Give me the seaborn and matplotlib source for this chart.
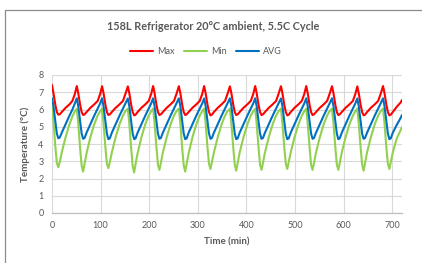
import matplotlib
matplotlib.use("Agg")
import matplotlib.pyplot as plt
import seaborn as sns
import pandas as pd
from matplotlib.lines import Line2D

# ---- data ----
time_min = [
    0, 3, 7, 10, 13, 16, 20, 28, 36, 42, 47,
    51, 54, 58, 61, 64, 67, 71, 79, 87, 94, 99,
    103, 106, 110, 113, 116, 119, 123, 131, 139, 146, 151,
    156, 159, 163, 166, 169, 172, 176, 184, 192, 199, 204,
    208, 211, 215, 218, 221, 224, 228, 236, 244, 251, 256,
    261, 264, 268, 271, 274, 277, 281, 289, 297, 304, 309,
    313, 316, 320, 323, 326, 329, 333, 341, 349, 356, 361,
    366, 369, 373, 376, 379, 382, 386, 394, 402, 409, 414,
    418, 421, 425, 428, 431, 434, 438, 446, 454, 461, 466,
    471, 474, 478, 481, 484, 487, 491, 499, 507, 514, 519,
    523, 526, 530, 533, 536, 539, 543, 551, 559, 566, 571,
    576, 579, 583, 586, 589, 592, 596, 604, 612, 619, 624,
    628, 631, 635, 638, 641, 644, 648, 656, 664, 671, 676,
    681, 684, 688, 691, 694, 697, 701, 709, 717, 720,
]

max_temp = [
    7.42, 6.95, 6.25, 5.85, 5.70, 5.72, 5.85, 6.10, 6.30, 6.50, 6.90,
    7.36, 6.95, 6.25, 5.85, 5.68, 5.72, 5.85, 6.10, 6.30, 6.50, 6.90,
    7.35, 6.95, 6.25, 5.85, 5.68, 5.72, 5.85, 6.10, 6.30, 6.50, 6.90,
    7.34, 6.95, 6.25, 5.85, 5.66, 5.70, 5.85, 6.10, 6.30, 6.50, 6.90,
    7.36, 6.95, 6.25, 5.85, 5.68, 5.72, 5.85, 6.10, 6.30, 6.50, 6.90,
    7.35, 6.95, 6.25, 5.85, 5.68, 5.72, 5.85, 6.10, 6.30, 6.50, 6.90,
    7.36, 6.95, 6.25, 5.85, 5.66, 5.70, 5.85, 6.10, 6.30, 6.50, 6.90,
    7.34, 6.95, 6.25, 5.85, 5.68, 5.72, 5.85, 6.10, 6.30, 6.50, 6.90,
    7.36, 6.95, 6.25, 5.85, 5.68, 5.72, 5.85, 6.10, 6.30, 6.50, 6.90,
    7.35, 6.95, 6.25, 5.85, 5.66, 5.70, 5.85, 6.10, 6.30, 6.50, 6.90,
    7.36, 6.95, 6.25, 5.85, 5.68, 5.72, 5.85, 6.10, 6.30, 6.50, 6.90,
    7.35, 6.95, 6.25, 5.85, 5.68, 5.72, 5.85, 6.10, 6.30, 6.50, 6.90,
    7.34, 6.95, 6.25, 5.85, 5.66, 5.70, 5.85, 6.10, 6.30, 6.50, 6.90,
    7.36, 6.95, 6.25, 5.85, 5.66, 5.70, 5.85, 6.15, 6.40, 6.55,
]

avg_temp = [
    6.65, 6.20, 5.30, 4.60, 4.33, 4.38, 4.65, 5.15, 5.65, 6.00, 6.35,
    6.65, 6.20, 5.30, 4.60, 4.30, 4.35, 4.65, 5.15, 5.65, 6.05, 6.35,
    6.65, 6.20, 5.30, 4.60, 4.28, 4.33, 4.65, 5.15, 5.65, 6.05, 6.35,
    6.64, 6.20, 5.30, 4.60, 4.28, 4.33, 4.65, 5.15, 5.65, 6.05, 6.35,
    6.65, 6.20, 5.30, 4.60, 4.30, 4.35, 4.65, 5.15, 5.65, 6.05, 6.35,
    6.65, 6.20, 5.30, 4.60, 4.28, 4.33, 4.65, 5.15, 5.65, 6.05, 6.35,
    6.64, 6.20, 5.30, 4.60, 4.30, 4.35, 4.65, 5.15, 5.65, 6.05, 6.35,
    6.65, 6.20, 5.30, 4.60, 4.28, 4.33, 4.65, 5.15, 5.65, 6.05, 6.35,
    6.65, 6.20, 5.30, 4.60, 4.30, 4.35, 4.65, 5.15, 5.65, 6.05, 6.35,
    6.64, 6.20, 5.30, 4.60, 4.28, 4.33, 4.65, 5.15, 5.65, 6.05, 6.35,
    6.65, 6.20, 5.30, 4.60, 4.30, 4.35, 4.65, 5.15, 5.65, 6.05, 6.35,
    6.65, 6.20, 5.30, 4.60, 4.28, 4.33, 4.65, 5.15, 5.65, 6.05, 6.35,
    6.64, 6.20, 5.30, 4.60, 4.30, 4.35, 4.65, 5.15, 5.65, 6.05, 6.35,
    6.65, 6.20, 5.30, 4.60, 4.28, 4.33, 4.65, 5.10, 5.50, 5.68,
]

min_temp = [
    6.30, 5.30, 3.80, 2.90, 2.65, 2.95, 3.50, 4.40, 5.15, 5.60, 5.90,
    6.05, 5.20, 3.70, 2.75, 2.40, 2.85, 3.45, 4.40, 5.15, 5.65, 5.90,
    6.05, 5.20, 3.75, 2.85, 2.60, 2.95, 3.50, 4.40, 5.15, 5.65, 5.90,
    6.05, 5.20, 3.70, 2.70, 2.35, 2.85, 3.45, 4.40, 5.15, 5.65, 5.90,
    6.05, 5.20, 3.75, 2.80, 2.50, 2.90, 3.50, 4.40, 5.15, 5.65, 5.90,
    6.05, 5.20, 3.70, 2.75, 2.40, 2.85, 3.45, 4.40, 5.15, 5.65, 5.90,
    6.05, 5.20, 3.75, 2.85, 2.55, 2.95, 3.50, 4.40, 5.15, 5.65, 5.90,
    6.05, 5.20, 3.75, 2.80, 2.45, 2.90, 3.50, 4.40, 5.15, 5.65, 5.90,
    6.05, 5.20, 3.75, 2.80, 2.50, 2.90, 3.50, 4.40, 5.15, 5.65, 5.90,
    6.05, 5.20, 3.75, 2.85, 2.55, 2.95, 3.50, 4.40, 5.15, 5.65, 5.90,
    6.05, 5.20, 3.75, 2.80, 2.50, 2.90, 3.50, 4.40, 5.15, 5.65, 5.90,
    6.05, 5.20, 3.75, 2.80, 2.50, 2.90, 3.50, 4.40, 5.15, 5.65, 5.90,
    6.05, 5.20, 3.75, 2.80, 2.45, 2.90, 3.50, 4.40, 5.15, 5.65, 5.90,
    6.05, 5.20, 3.75, 2.85, 2.55, 2.95, 3.50, 4.30, 4.80, 4.98,
]

series_names = ["Max", "Min", "AVG"]
series_colors = ["#ff0000", "#92d050", "#0070c0"]
x_ticks = [0, 100, 200, 300, 400, 500, 600, 700]
y_ticks = [0, 1, 2, 3, 4, 5, 6, 7, 8]

df = pd.DataFrame({
    "time": time_min * 3,
    "temp": max_temp + min_temp + avg_temp,
    "series": ["Max"] * len(time_min) + ["Min"] * len(time_min) + ["AVG"] * len(time_min),
})

sns.set_theme(style="white")
plt.rcParams["font.family"] = ["Lato", "DejaVu Sans"]

text_gray = "#595959"
grid_gray = "#d9d9d9"

fig = plt.figure(figsize=(4.22, 2.63), dpi=100)
ax = fig.add_axes([52 / 422, 1 - 213 / 263, 350 / 422, 138 / 263])

palette = dict(zip(series_names, series_colors))
sns.lineplot(data=df, x="time", y="temp", hue="series", hue_order=series_names,
             palette=palette, ax=ax, linewidth=1.5, legend=False, sort=False,
             estimator=None)

ax.set_xlim(0, 720)
ax.set_ylim(0, 8)
ax.set_xticks(x_ticks)
ax.set_yticks(y_ticks)
ax.grid(True, color=grid_gray, linewidth=0.8)
ax.set_axisbelow(True)
for s in ["top", "right", "left"]:
    ax.spines[s].set_visible(False)
ax.spines["bottom"].set_color("#bfbfbf")
ax.spines["bottom"].set_linewidth(0.9)
ax.tick_params(axis="both", length=0, labelsize=6.5, labelcolor=text_gray, pad=6)
ax.set_xlabel("Time (min)", fontsize=7, fontweight="bold", color=text_gray, labelpad=5)
ax.set_ylabel("Temperature (°C)", fontsize=7, fontweight="bold", color=text_gray, labelpad=6)

fig.text(213 / 422, 1 - 26 / 263, "158L Refrigerator 20°C ambient, 5.5C Cycle",
         ha="center", va="center", fontsize=7.8, fontweight="bold", color=text_gray)

handles = [Line2D([0], [0], color=c, lw=1.5) for c in series_colors]
fig.legend(handles, series_names, loc="center", bbox_to_anchor=(206 / 422, 1 - 52 / 263),
           ncol=3, frameon=False, fontsize=6.5, labelcolor=text_gray,
           handlelength=2.5, handletextpad=0.45, columnspacing=1.1)

# outer chart frame
fig.add_artist(Line2D([4.5 / 422, 4.5 / 422], [0, 1 - 9.5 / 263], color="#8c8c8c", lw=0.9,
                      transform=fig.transFigure))
fig.add_artist(Line2D([4.5 / 422, 1], [1 - 9.5 / 263, 1 - 9.5 / 263], color="#8c8c8c", lw=0.9,
                      transform=fig.transFigure))

fig.savefig("out.png", dpi=100)
